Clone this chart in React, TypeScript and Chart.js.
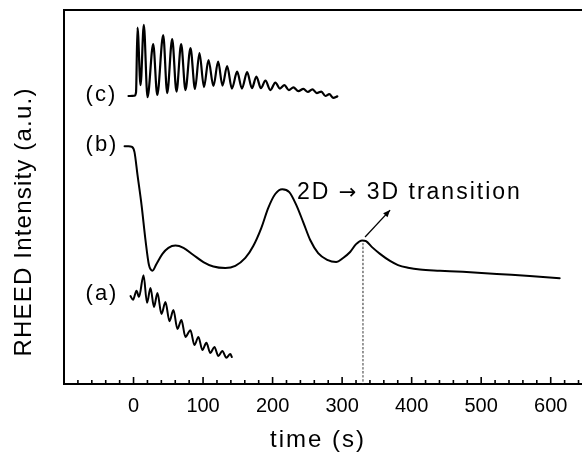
import React, { useEffect, useRef } from 'react';
import { Chart, registerables } from 'chart.js';

Chart.register(...registerables);

const FONT = '"Liberation Sans", Arial, Helvetica, sans-serif';
const ARROW_FONT = '"DejaVu Sans", sans-serif';

// Axis range and tick labels
const xMin = -100;
const xMax = 645;
const yMin = 0;
const yMax = 100;
const xMajorTicks = [0, 100, 200, 300, 400, 500, 600];
const xMinorStep = 20;

// Curve (c): time (s) and intensity (a.u.)
const cTime = [-7.2, 1.4, 3.6, 5.7, 10.1, 14.8, 20.1, 28.3, 34.1, 42.7, 48.4, 55.6, 61.8, 68.5, 74.7, 81.9, 88.4, 94.8, 101.3, 107.8, 114.9, 121.7, 127.9, 134.6, 141.5, 149.0, 155.9, 163.4, 170.3, 176.7, 183.2, 189.7, 196.8, 204.0, 210.5, 217.0, 223.4, 229.9, 237.1, 244.3, 250.7, 257.2, 263.6, 270.1, 275.9, 281.6, 287.4, 293.1];
const cValue = [77.0, 77.1, 78.0, 95.3, 79.9, 96.0, 76.7, 90.9, 77.3, 93.3, 77.8, 92.2, 78.2, 90.9, 78.6, 89.8, 78.9, 88.5, 79.4, 86.6, 79.7, 86.2, 79.8, 85.0, 79.0, 83.5, 79.0, 83.4, 79.1, 82.2, 79.1, 81.1, 78.6, 80.6, 79.0, 79.9, 78.6, 79.3, 78.3, 78.9, 78.1, 78.8, 77.8, 78.2, 77.0, 77.5, 76.5, 76.9];

// Curve (b)
const bTime = [-12.9, -7.2, -2.2, 1.4, 5.7, 11.5, 17.2, 22.2, 27.3, 33.0, 41.6, 50.2, 60.3, 71.8, 86.1, 100.5, 114.8, 132.1, 146.4, 160.8, 172.2, 183.7, 193.8, 203.8, 213.9, 224.0, 234.0, 244.0, 254.1, 265.5, 278.5, 291.4, 301.4, 311.5, 320.1, 328.7, 334.4, 343.0, 354.5, 368.9, 380.4, 394.7, 411.9, 440.6, 473.6, 522.5, 569.8, 612.9];
const bValue = [63.6, 63.6, 63.4, 62.0, 55.9, 47.9, 38.5, 31.8, 30.3, 32.1, 34.8, 36.4, 37.0, 36.4, 34.5, 32.6, 31.4, 31.0, 31.6, 33.7, 36.9, 41.7, 47.1, 50.8, 52.1, 51.3, 47.9, 43.3, 38.5, 35.0, 33.2, 32.6, 33.7, 35.3, 37.4, 38.4, 38.2, 36.6, 34.8, 32.9, 31.8, 31.1, 30.6, 30.3, 30.0, 29.4, 28.9, 28.3];

// Curve (a)
const aTime = [-4.3, -0.7, 4.3, 7.9, 14.4, 19.4, 24.4, 29.4, 34.4, 40.2, 45.9, 51.7, 57.4, 63.1, 68.9, 74.6, 81.8, 87.6, 93.3, 99.0, 104.8, 110.5, 116.3, 122.0, 127.7, 133.5, 139.2, 141.4];
const aValue = [23.5, 22.5, 24.9, 23.3, 29.1, 21.7, 25.7, 20.6, 24.3, 18.7, 21.9, 16.8, 19.8, 14.7, 17.1, 12.6, 14.4, 10.4, 12.6, 9.1, 11.0, 8.3, 9.9, 7.5, 8.8, 7.0, 8.0, 7.2];

// 2D -> 3D transition marker
const transitionTime = 330;
const transitionValue = 37.6;

// Text annotations
const curveLabels = ['(c)', '(b)', '(a)'];
const curveLabelTime = -69;
const curveLabelValue = [77.3, 63.9, 24.1];
const transitionTextParts = ['2D ', '\u2192', ' 3D transition'];
const transitionTextTime = 235;
const transitionTextValue = 51.1;
const arrowFrom = { t: 333, v: 39.3 };
const arrowTo = { t: 369, v: 46.5 };
const xTitle = 'time (s)';
const yTitle = 'RHEED Intensity (a.u.)';

const toXY = (ts: number[], vs: number[]) => ts.map((t, i) => ({ x: t, y: vs[i] }));

const decor = {
  id: 'decor',
  afterDraw(chart: any) {
    const { ctx, chartArea: ca } = chart;
    const x = chart.scales.x;
    const y = chart.scales.y;
    ctx.save();
    ctx.strokeStyle = '#000';
    ctx.fillStyle = '#000';

    // top frame line
    ctx.lineWidth = 2;
    ctx.beginPath();
    ctx.moveTo(ca.left - 1, ca.top);
    ctx.lineTo(ca.right, ca.top);
    ctx.stroke();

    // inward tick marks on the time axis
    ctx.lineWidth = 1.6;
    for (let v = xMin + xMinorStep; v <= xMax; v += xMinorStep) {
      const px = x.getPixelForValue(v);
      const len = v % 100 === 0 ? 7 : 4;
      ctx.beginPath();
      ctx.moveTo(px, ca.bottom);
      ctx.lineTo(px, ca.bottom - len);
      ctx.stroke();
    }

    // arrow
    const ax0 = x.getPixelForValue(arrowFrom.t);
    const ay0 = y.getPixelForValue(arrowFrom.v);
    const ax1 = x.getPixelForValue(arrowTo.t);
    const ay1 = y.getPixelForValue(arrowTo.v);
    ctx.lineWidth = 1.3;
    ctx.beginPath();
    ctx.moveTo(ax0, ay0);
    ctx.lineTo(ax1, ay1);
    ctx.stroke();
    const ang = Math.atan2(ay1 - ay0, ax1 - ax0);
    const hl = 7;
    const hw = 3;
    ctx.beginPath();
    ctx.moveTo(ax1, ay1);
    ctx.lineTo(ax1 - hl * Math.cos(ang) + hw * Math.sin(ang), ay1 - hl * Math.sin(ang) - hw * Math.cos(ang));
    ctx.lineTo(ax1 - hl * Math.cos(ang) - hw * Math.sin(ang), ay1 - hl * Math.sin(ang) + hw * Math.cos(ang));
    ctx.closePath();
    ctx.fill();

    // texts
    ctx.textBaseline = 'middle';
    ctx.textAlign = 'left';
    (ctx as any).letterSpacing = '2px';
    ctx.font = `22px ${FONT}`;
    curveLabels.forEach((lab, i) => {
      ctx.fillText(lab, x.getPixelForValue(curveLabelTime), y.getPixelForValue(curveLabelValue[i]));
    });

    // "2D -> 3D transition", arrow glyph from a font with a long arrow
    let tx = x.getPixelForValue(transitionTextTime);
    const ty = y.getPixelForValue(transitionTextValue);
    transitionTextParts.forEach((part, i) => {
      ctx.font = i === 1 ? `21px ${ARROW_FONT}` : `23px ${FONT}`;
      ctx.fillText(part, tx, ty + (i === 1 ? 1 : 0));
      tx += ctx.measureText(part).width;
    });

    // x title
    ctx.font = `24px ${FONT}`;
    ctx.textAlign = 'center';
    ctx.fillText(xTitle, 318, 440);

    // y title
    (ctx as any).letterSpacing = '1.2px';
    ctx.translate(24, 222);
    ctx.rotate(-Math.PI / 2);
    ctx.fillText(yTitle, 0, 0);
    ctx.restore();
  },
};

export default function App() {
  const ref = useRef<HTMLCanvasElement>(null);
  useEffect(() => {
    document.body.style.margin = '0';
    document.body.style.overflow = 'hidden';
    const chart = new Chart(ref.current as HTMLCanvasElement, {
      type: 'line',
      data: {
        datasets: [
          { data: toXY(cTime, cValue), borderColor: '#000', borderWidth: 2.2 },
          { data: toXY(bTime, bValue), borderColor: '#000', borderWidth: 2 },
          { data: toXY(aTime, aValue), borderColor: '#000', borderWidth: 2 },
          {
            data: [{ x: transitionTime, y: transitionValue }, { x: transitionTime, y: yMin }],
            borderColor: '#222',
            borderWidth: 1,
            borderDash: [1.5, 2.5],
          },
        ],
      },
      options: {
        responsive: false,
        animation: false,
        events: [],
        layout: { padding: { top: 10, left: 0, right: 0, bottom: 0 } },
        elements: {
          point: { radius: 0 },
          line: { cubicInterpolationMode: 'monotone', borderJoinStyle: 'round', borderCapStyle: 'round' },
        },
        plugins: { legend: { display: false }, tooltip: { enabled: false }, title: { display: false } },
        scales: {
          x: {
            type: 'linear',
            min: xMin,
            max: xMax,
            afterFit: (s: any) => { s.height = 71; },
            afterBuildTicks: (s: any) => { s.ticks = xMajorTicks.map((v) => ({ value: v })); },
            grid: { display: false, drawTicks: false },
            border: { display: true, color: '#000', width: 2 },
            ticks: { font: { family: FONT, size: 20 }, color: '#000', padding: 10, autoSkip: false, maxRotation: 0 },
          },
          y: {
            type: 'linear',
            min: yMin,
            max: yMax,
            afterFit: (s: any) => { s.width = 64; },
            grid: { display: false, drawTicks: false },
            border: { display: true, color: '#000', width: 2 },
            ticks: { display: false },
          },
        },
      },
      plugins: [decor],
    } as any);
    return () => chart.destroy();
  }, []);
  return (
    <div style={{ width: 582, height: 455 }}>
      <canvas ref={ref} width={582} height={455} style={{ display: 'block' }} />
    </div>
  );
}
